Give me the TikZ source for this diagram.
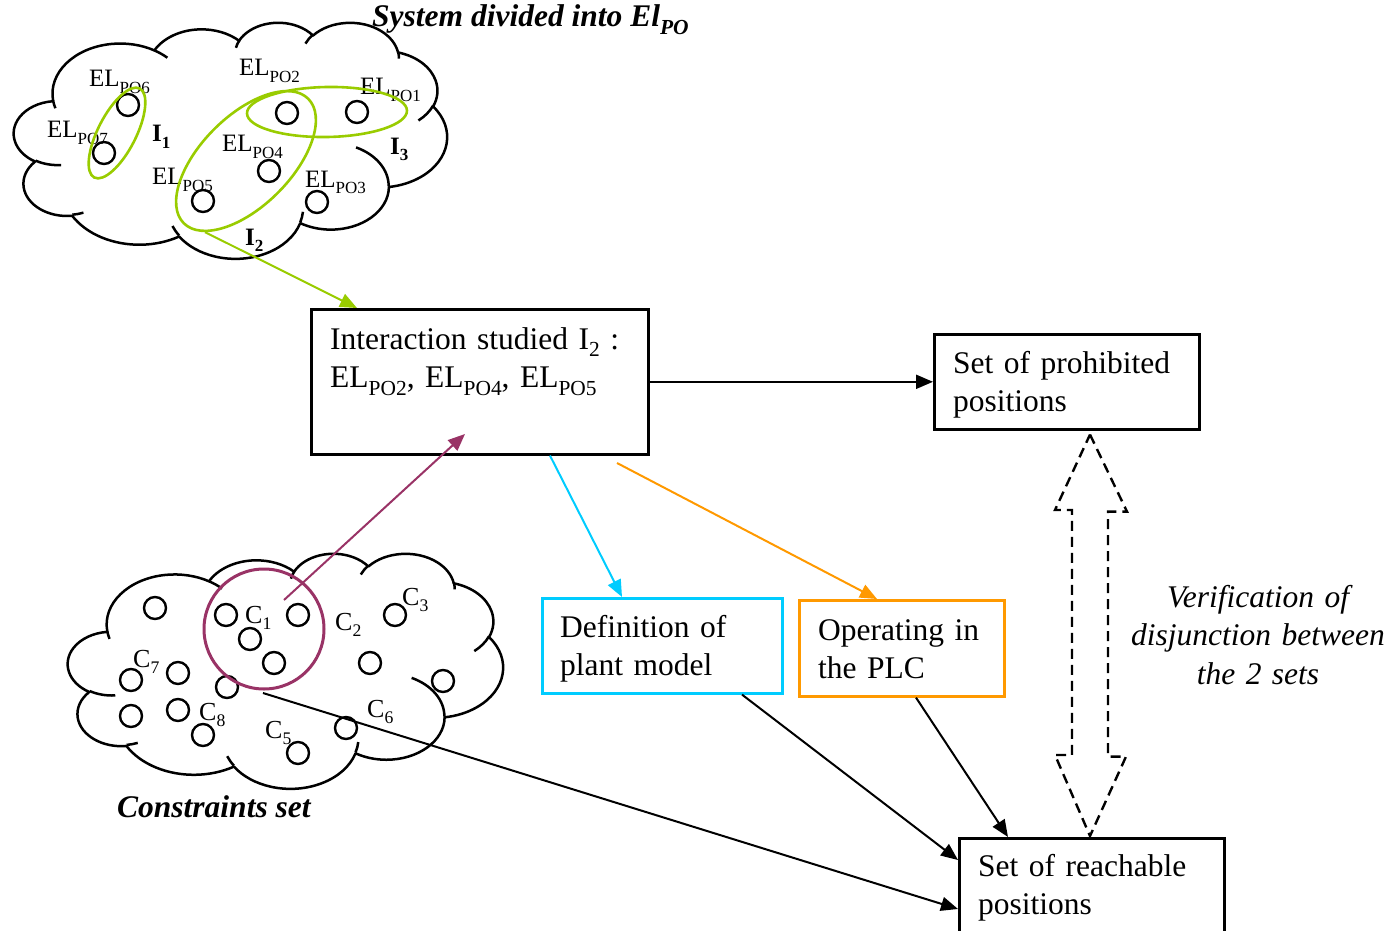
\documentclass[tikz,border=0pt]{standalone}
\usepackage{fontspec}
\setmainfont{Liberation Serif}
\usepackage{graphicx}
\usetikzlibrary{arrows.meta,shapes.geometric,calc}

\definecolor{limegreen}{HTML}{99CC00}
\definecolor{skycyan}{HTML}{00CCFF}
\definecolor{amber}{HTML}{FF9900}
\definecolor{plum}{HTML}{993366}

\newcommand\mainsize{\fontsize{31.5}{38.5}\selectfont}
\newcommand\lsub[1]{\raisebox{-0.25em}{\scalebox{0.68}{#1}}}

% elliptical arc given by its visual start angle and sweep (y axis pointing down)
\newcommand\carc[4]{arc[x radius=#1, y radius=#2,
  start angle={atan2(#1*sin(#3),#2*cos(#3))},
  delta angle={mod(atan2(#1*sin(#3+#4),#2*cos(#3+#4))-atan2(#1*sin(#3),#2*cos(#3))+720,360)}]}

% cloud outline in a 432 x 432 frame, placed at (#1,#2) with size #3 x #4 given as scale factors
\newcommand\cloudoutline[4]{%
  \begin{scope}[shift={(#1,#2)}, x=1pt, y=1pt, xscale=#3, yscale=-#4]
    \draw[cloudline] (39.00,143.70)
      \carc{67.53}{91.90}{-190.4875}{123.7805}
      \carc{53.33}{72.67}{-144.1024}{89.9452}
      \carc{43.65}{59.45}{-145.8079}{99.7230}
      \carc{48.57}{65.95}{-130.9861}{117.2417}
      \carc{53.33}{72.73}{-78.7089}{109.0269}
      \carc{67.75}{92.20}{-46.2673}{130.2690}
      \carc{57.85}{78.67}{0.6250}{114.0333}
      \carc{67.52}{92.15}{22.4516}{115.1726}
      \carc{77.20}{105.43}{66.2426}{75.7110}
      \carc{43.60}{59.18}{-274.9421}{146.7356}
      \carc{43.45}{59.45}{-246.8285}{152.5189}
      -- cycle;
    \draw[cloudline]
      (46.93,261.77) \carc{43.45}{59.45}{86.7420}{26.4295}
      (69.28,348.99) \carc{43.60}{59.18}{73.6105}{11.4475}
      (164.78,390.90) \carc{67.52}{92.15}{137.6242}{14.0811}
      (288.27,347.51) \carc{67.52}{92.15}{6.4533}{15.9984}
      (341.29,229.54) \carc{57.85}{78.67}{-70.2924}{70.9174}
      (417.98,153.54) \carc{53.33}{72.73}{30.3180}{27.7515}
      (383.24,54.26) \carc{48.57}{65.95}{-13.7443}{14.8589}
      (290.78,39.52) \carc{48.57}{65.95}{-149.1815}{18.1954}
      (221.41,47.20) \carc{43.65}{59.45}{-163.4943}{17.6864}
      (140.00,51.92) \carc{67.53}{91.90}{-66.7070}{12.3194}
      (41.27,157.89) \carc{67.53}{91.90}{157.6544}{11.8582};
  \end{scope}}

\tikzset{
  cloudline/.style={draw=black, line width=2.5pt, line join=round},
  dot/.style={circle, draw=black, line width=2.4pt, minimum size=22pt, inner sep=0pt},
  ellabel/.style={anchor=base west, inner sep=0pt, font=\fontsize{25}{25}\selectfont},
  clabel/.style={anchor=base west, inner sep=0pt, font=\fontsize{26}{26}\selectfont},
  ilabel/.style={anchor=base west, inner sep=0pt, font=\fontsize{25}{25}\selectfont\bfseries},
  group/.style={ellipse, draw=limegreen, line width=2.6pt, inner sep=0pt},
  box/.style={rectangle, draw=black, line width=2.6pt, inner sep=0pt, anchor=north west},
  boxtext/.style={anchor=base west, inner sep=0pt, align=left, font=\mainsize},
  conn/.style={line width=2pt, -{Triangle[length=17pt,width=14pt]}},
}

\begin{document}
\begin{tikzpicture}[x=1pt, y=-1pt]
\useasboundingbox (0,0) rectangle (1395,931);
\clip (0,0) rectangle (1395,931);

% ---------- system cloud ----------
\cloudoutline{14}{22}{1.0023}{0.5463}
\node[anchor=base west, inner sep=0pt, font=\fontsize{31.5}{31.5}\selectfont\bfseries\itshape]
  (systitle) at (372,27) {System divided into El\lsub{PO}};

\node[dot] (po6) at (128,105) {};
\node[dot] (po7) at (104,153) {};
\node[dot] (po2) at (287,113) {};
\node[dot] (po1) at (357,112) {};
\node[dot] (po4) at (269,171) {};
\node[dot] (po5) at (203,201) {};
\node[dot] (po3) at (317,202) {};

\node[ellabel] (lpo6) at (89,87)  {EL\lsub{PO6}};
\node[ellabel] (lpo7) at (47,138) {EL\lsub{PO7}};
\node[ellabel] (lpo2) at (239,76) {EL\lsub{PO2}};
\node[ellabel] (lpo1) at (360,95) {EL\lsub{PO1}};
\node[ellabel] (lpo4) at (222,152) {EL\lsub{PO4}};
\node[ellabel] (lpo5) at (152,185) {EL\lsub{PO5}};
\node[ellabel] (lpo3) at (305,187) {EL\lsub{PO3}};

\node[group, minimum width=100pt, minimum height=38pt, rotate=63] (gi1) at (117,133) {};
\node[group, minimum width=176pt, minimum height=90pt, rotate=45] (gi2) at (246,161) {};
\node[group, minimum width=160pt, minimum height=50pt, rotate=1] (gi3) at (327,112) {};

\node[ilabel] (li1) at (152,142) {I\lsub{1}};
\node[ilabel] (li2) at (245,245) {I\lsub{2}};
\node[ilabel] (li3) at (390,154) {I\lsub{3}};

% ---------- constraints cloud ----------
\cloudoutline{68}{553}{1.0069}{0.5440}
\node[anchor=base west, inner sep=0pt, font=\mainsize\bfseries\itshape]
  (ctitle) at (117,817) {Constraints set};

\node[dot] (c01) at (155,608) {};
\node[dot] (c02) at (226,615) {};
\node[dot] (c03) at (250,639) {};
\node[dot] (c04) at (298,615) {};
\node[dot] (c05) at (274,663) {};
\node[dot] (c06) at (131,680) {};
\node[dot] (c07) at (178,673) {};
\node[dot] (c08) at (227,687) {};
\node[dot] (c09) at (131,716) {};
\node[dot] (c10) at (178,710) {};
\node[dot] (c11) at (203,735) {};
\node[dot] (c12) at (298,753) {};
\node[dot] (c13) at (346,728) {};
\node[dot] (c14) at (370,663) {};
\node[dot] (c15) at (395,615) {};
\node[dot] (c16) at (443,681) {};

\node[clabel] (lc1) at (245,623) {C\lsub{1}};
\node[clabel] (lc2) at (335,630) {C\lsub{2}};
\node[clabel] (lc3) at (402,605) {C\lsub{3}};
\node[clabel] (lc7) at (133,667) {C\lsub{7}};
\node[clabel] (lc8) at (199,720) {C\lsub{8}};
\node[clabel] (lc5) at (265,738) {C\lsub{5}};
\node[clabel] (lc6) at (367,717) {C\lsub{6}};

\node[circle, draw=plum, line width=3pt, minimum size=120pt, inner sep=0pt] (grp) at (264,629) {};

% ---------- boxes ----------
\node[box, minimum width=337pt, minimum height=145pt] (inter) at (310,308) {};
\node[boxtext, text width=320pt] (intertext) at (330,349)
  {Interaction studied I\lsub{2} :\\EL\lsub{PO2}, EL\lsub{PO4}, EL\lsub{PO5}};

\node[box, minimum width=265pt, minimum height=95pt] (prohib) at (933,333) {};
\node[boxtext, text width=250pt] (prohibtext) at (953,373) {Set of prohibited\\positions};

\node[box, draw=skycyan, minimum width=240pt, minimum height=95pt] (defn) at (541,597) {};
\node[boxtext, text width=220pt] (defntext) at (560,637) {Definition of\\plant model};

\node[box, draw=amber, minimum width=205pt, minimum height=96pt] (oper) at (798,599) {};
\node[boxtext, text width=190pt] (opertext) at (818,640) {Operating in\\the PLC};

\node[box, minimum width=265pt, minimum height=120pt] (reach) at (958,837) {};
\node[boxtext, text width=250pt] (reachtext) at (978,876) {Set of reachable\\positions};

\node[anchor=base, inner sep=0pt, align=center, text width=280pt, font=\mainsize\itshape]
  (verif) at (1258,607) {Verification of\\disjunction between\\the 2 sets};

% ---------- connectors ----------
\coordinate (pstart) at (284,600);
\coordinate (ptip) at (465,434);
\coordinate (ostart) at (617,463);
\coordinate (cstart) at (263,693);

\draw[conn, limegreen] (gi2.195) -- ($(inter.north west)+(47,0)$);
\draw[conn, plum] (pstart) -- (ptip);
\draw[conn, black] (inter.east) -- (prohib.west);
\draw[conn, skycyan] ($(inter.south west)+(240,0)$) -- ($(defn.north west)+(81,0)$);
\draw[conn, amber] (ostart) -- ($(oper.north west)+(79,0)$);
\draw[conn, black] ($(defn.south west)+(201,0)$) -- ($(reach.north west)+(0,23)$);
\draw[conn, black] ($(oper.south west)+(118,0)$) -- ($(reach.north west)+(50,0)$);
\draw[conn, black] (cstart) -- ($(reach.north west)+(0,72)$);

% dashed double block arrow between the two sets
\draw[line width=2.4pt, dash pattern=on 10pt off 6pt]
  ($(prohib.south west)+(157,4)$) -- ++(37,77) -- ++(-19,0) -- ++(0,245) -- ++(18,0)
  -- ($(reach.north west)+(132,-1)$) -- ++(-35,-81) -- ++(17,0) -- ++(0,-245) -- ++(-17,0) -- cycle;
\end{tikzpicture}
\end{document}
